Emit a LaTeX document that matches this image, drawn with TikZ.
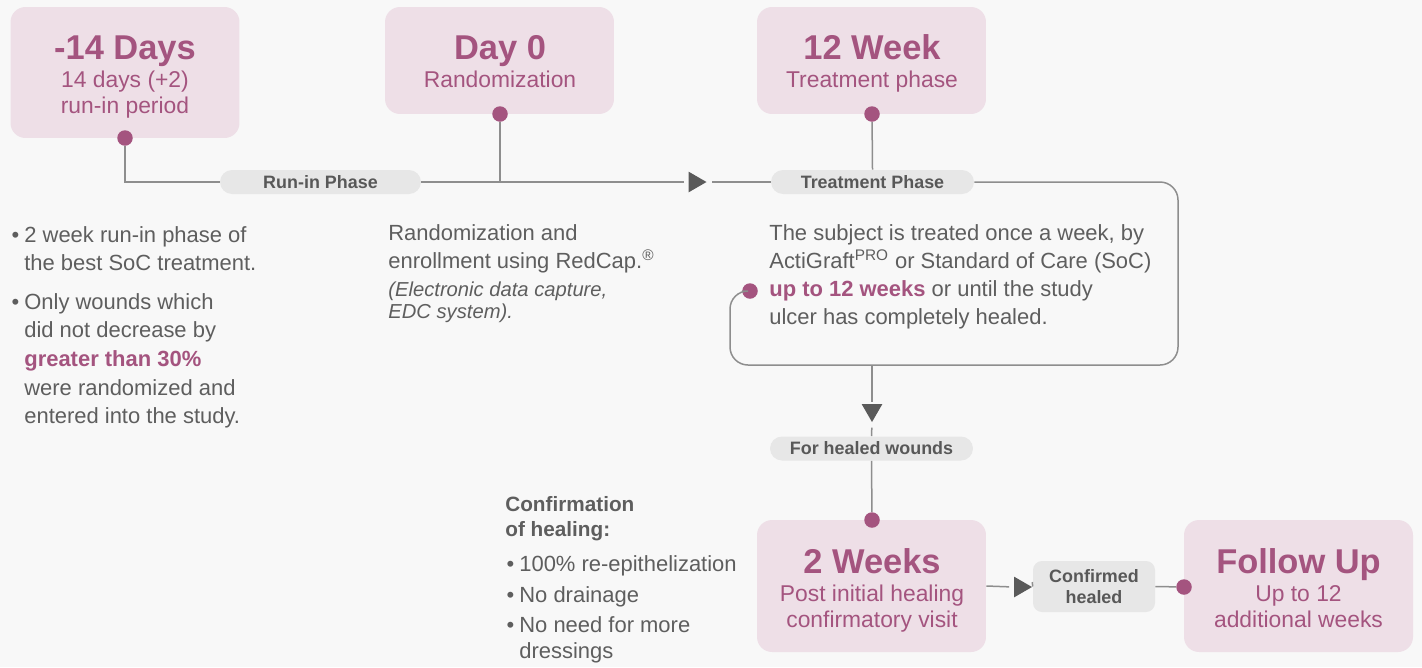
\documentclass[tikz,border=0pt]{standalone}
\usepackage{fontspec}
\setmainfont{Liberation Sans}
\usetikzlibrary{shapes.geometric}

\definecolor{bgcol}{HTML}{F8F8F8}
\definecolor{boxcol}{HTML}{EEDFE7}
\definecolor{plum}{HTML}{A4547F}
\definecolor{pillcol}{HTML}{E7E7E7}
\definecolor{pilltxt}{HTML}{585858}
\definecolor{txtcol}{HTML}{5E5E5E}
\definecolor{linecol}{HTML}{8E8E8E}
\definecolor{tipcol}{HTML}{5A5A5A}

\tikzset{
  stagebox/.style={fill=boxcol, rounded corners=0.3cm, inner sep=0, minimum width=4.58cm},
  stagetitle/.style={anchor=base, text=plum, inner sep=0, font=\fontsize{19.6}{22}\selectfont\bfseries},
  stagesub/.style={anchor=base, text=plum, inner sep=0, font=\fontsize{13}{15}\selectfont},
  pin/.style={circle, fill=plum, inner sep=0, minimum size=0.31cm},
  pill/.style={fill=pillcol, rounded corners=0.24cm, inner sep=0, minimum height=0.48cm,
    text=pilltxt, align=center, font=\fontsize{10.2}{11.6}\selectfont\bfseries},
  conn/.style={draw=linecol, line width=0.03cm},
  tip/.style={isosceles triangle, isosceles triangle apex angle=60, fill=tipcol, inner sep=0,
    minimum height=0.36cm},
  bodytext/.style={anchor=north west, text=txtcol, inner sep=0, align=left,
    font=\fontsize{12.5}{15.9}\selectfont}
}

\begin{document}
\begin{tikzpicture}[x=0.02cm, y=-0.02cm]

\fill[bgcol] (0,0) rectangle (1422,667);
\useasboundingbox (0,0) rectangle (1422,667);

\node[stagebox, minimum height=2.62cm] (bx1) at (125,72.5) {};
\node[stagetitle] (bx1title) at (125,59.5) {-14 Days};
\node[stagesub] (bx1sub) at (125,87) {14 days (+2)};
\node[stagesub] (bx1subb) at (125,113) {run-in period};

\node[stagebox, minimum height=2.14cm] (bx2) at (499.5,60.5) {};
\node[stagetitle] (bx2title) at (500,59.5) {Day 0};
\node[stagesub] (bx2sub) at (500,87) {Randomization};

\node[stagebox, minimum height=2.14cm] (bx3) at (871.5,60.5) {};
\node[stagetitle] (bx3title) at (872,59.5) {12 Week};
\node[stagesub] (bx3sub) at (872,87) {Treatment phase};

\node[stagebox, minimum height=2.64cm] (bx4) at (871.5,586) {};
\node[stagetitle] (bx4title) at (872,573.5) {2 Weeks};
\node[stagesub] (bx4sub) at (872,601) {Post initial healing};
\node[stagesub] (bx4subb) at (872,627) {confirmatory visit};

\node[stagebox, minimum height=2.64cm] (bx5) at (1298.5,586) {};
\node[stagetitle] (bx5title) at (1298.5,573.5) {Follow Up};
\node[stagesub] (bx5sub) at (1298.5,601) {Up to 12};
\node[stagesub] (bx5subb) at (1298.5,627) {additional weeks};

\node[pin] (d1) at (125,138) {};
\node[pin] (d2) at (500,114) {};
\node[pin] (d3) at (872,114) {};
\node[pin] (d4) at (750,291) {};
\node[pin] (d5) at (872,520) {};
\node[pin] (d6) at (1184,587) {};

\node[pill, minimum width=4.02cm] (runpill) at (320.5,182) {Run-in Phase};
\node[pill, minimum width=4.06cm] (trtpill) at (872.5,182) {Treatment Phase};
\node[pill, minimum width=4.06cm] (healpill) at (871.5,448.5) {For healed wounds};
\node[pill, minimum width=2.44cm, minimum height=1.02cm, rounded corners=0.18cm] (confpill) at (1094,586.5) {Confirmed\\healed};

\node[tip] (arr1) at (694.5,182) {};
\node[tip, shape border rotate=-90] (arr2) at (872,410) {};
\node[tip] (arr3) at (1020,587) {};
\coordinate (loopbot) at (872,365);

\draw[conn] (d1) |- (runpill.west);
\draw[conn, shorten >=0.09cm] (runpill.east) -- (arr1.west);
\draw[conn] (d2) -- (d2 |- runpill);
\draw[conn, shorten <=0.1cm] (arr1.east) -- (trtpill.west);
\draw[conn] (d3) -- (trtpill.north);
\draw[conn, rounded corners=0.36cm] (trtpill.east) -- (1178,182) -- (1178,365) -- (730,365) -- (730,291) [sharp corners] -- (d4);
\draw[conn, shorten >=0.04cm] (loopbot) -- (arr2.north);
\draw[conn, shorten <=0.1cm] (arr2.south) -- (healpill.north);
\draw[conn] (healpill.south) -- (d5);
\draw[conn, shorten >=0.09cm] (bx4.east) -- (arr3.west);
\draw[conn, shorten <=0.1cm] (arr3.east) -- (confpill.west);
\draw[conn] (confpill.east) -- (d6);

\node[bodytext, font=\fontsize{12.5}{16.3}\selectfont] (runtxt) at (24,226)
  {\llap{\textbullet\hspace{0.1cm}}2 week run-in phase of\\the best SoC treatment.};
\node[bodytext, font=\fontsize{12.5}{16.3}\selectfont] (runtxtb) at (24,293)
  {\llap{\textbullet\hspace{0.1cm}}Only wounds which\\did not decrease by\\{\bfseries\color{plum}greater than 30\%}\\were randomized and\\entered into the study.};

\node[bodytext] (randtxt) at (388,224)
  {Randomization and\\enrollment using RedCap.\textsuperscript{®}};
\node[bodytext, font=\fontsize{11.5}{13}\selectfont\itshape] (randtxtb) at (388,281)
  {(Electronic data capture,\\EDC system).};

\node[bodytext] (trttxt) at (769,224)
  {The subject is treated once a week, by\\ActiGraft\textsuperscript{PRO} or Standard of Care (SoC)\\{\bfseries\color{plum}up to 12 weeks} or until the study\\ulcer has completely healed.};

\node[bodytext, font=\fontsize{11.8}{14.2}\selectfont\bfseries] (conftxt) at (505,496)
  {Confirmation\\of healing:};
\node[bodytext, font=\fontsize{12.5}{14.7}\selectfont] (conftxtb) at (519,555)
  {\llap{\textbullet\hspace{0.1cm}}100\% re-epithelization\\[0.1cm]\llap{\textbullet\hspace{0.1cm}}No drainage\\[0.1cm]\llap{\textbullet\hspace{0.1cm}}No need for more\\dressings};

\end{tikzpicture}
\end{document}
